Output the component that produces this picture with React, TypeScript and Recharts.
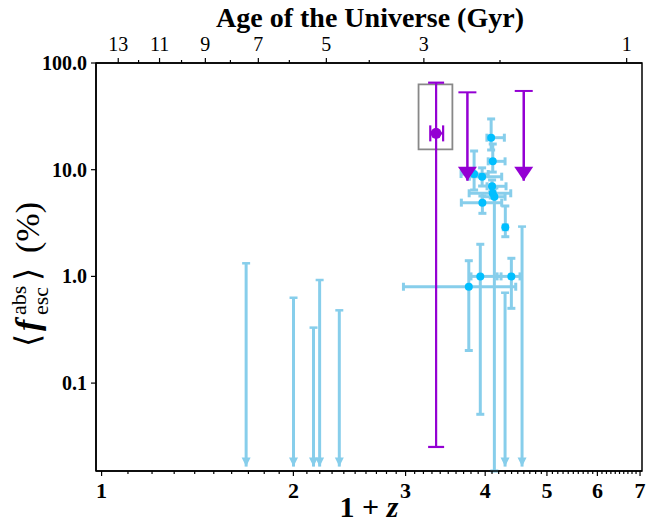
import { ScatterChart, Scatter, XAxis, YAxis, ErrorBar, ReferenceArea } from 'recharts';

// axis domains (1+z on x, <f_esc> in % on y)
const xDomain = [0.98, 7.05];
const yDomain = [0.015, 100];

// bottom axis ticks
const zMajor = [1, 2, 3, 4, 5, 6, 7];
const zMinor: number[] = [];
for (let i = 1; i < 7; i++) for (let k = 1; k < 10; k++) zMinor.push(Math.round((i + k / 10) * 10) / 10);

// top axis: age of the universe (Gyr) and where it falls in 1+z
const ageLabels = [13, 12, 11, 10, 9, 8, 7, 6, 5, 4, 3, 2, 1];
const agePos = [1.062, 1.143, 1.233, 1.335, 1.455, 1.593, 1.762, 1.971, 2.253, 2.631, 3.205, 4.22, 6.67];

// left axis ticks
const yTicks = [0.1, 1, 10, 100];
const yTickLabels = ['0.1', '1.0', '10.0', '100.0'];

// sky-blue measurements
const blueX = [4.087, 4.111, 3.843, 3.956, 4.101, 4.111, 4.135, 3.96, 4.302, 3.93, 4.397, 3.77];
const blueY = [19.95, 11.98, 9.11, 8.6, 6.99, 6.01, 5.58, 4.91, 2.885, 1.0, 1.0, 0.8];
const blueYLo = [15.3, 9.5, 6.45, 7.03, 6.18, 5.43, 0.015, 3.9, 2.355, 0.051, 0.502, 0.202];
const blueYHi = [29.9, 17.4, 14.97, 10.4, 8.01, 6.59, 6.74, 5.67, 4.57, 2.0, 1.478, 1.403];
const blueXLo = [4.025, 4.044, 3.666, 3.778, 4.027, 3.775, 3.956, 3.67, 4.27, 3.8, 4.176, 2.977];
const blueXHi = [4.287, 4.298, 4.044, 4.246, 4.313, 4.387, 4.298, 4.246, 4.33, 4.236, 4.537, 4.467];

// sky-blue upper limits (arrow down to the floor)
const blueLimX = [1.686, 2.001, 2.151, 2.199, 2.361, 4.298, 4.57];
const blueLimY = [1.327, 0.631, 0.331, 0.925, 0.481, 0.703, 2.93];
const blueLimTip = [0.0165, 0.0165, 0.0165, 0.0165, 0.0165, 0.0165, 0.0165];

// violet measurement
const violetX = [3.35];
const violetY = [21.9];
const violetYLo = [0.0252];
const violetYHi = [65.4];
const violetXLo = [3.28];
const violetXHi = [3.436];

// violet upper limits
const violetLimX = [3.751, 4.598];
const violetLimY = [53.1, 54.7];
const violetLimTip = [7.88, 7.88];

// highlight box
const boxX = [3.144, 3.553];
const boxY = [15.5, 63.1];

const BLUE_BAR = '#87CEEB';
const BLUE_DOT = '#00BFFF';
const VIOLET = '#9400D3';
const FONT = '"Liberation Serif", serif';

const blueRows = blueX.map((x, i) => ({
  x,
  y: blueY[i],
  ex: [x - blueXLo[i], blueXHi[i] - x],
  ey: [blueY[i] - blueYLo[i], blueYHi[i] - blueY[i]],
}));
const violetRows = violetX.map((x, i) => ({
  x,
  y: violetY[i],
  ex: [x - violetXLo[i], violetXHi[i] - x],
  ey: [violetY[i] - violetYLo[i], violetYHi[i] - violetY[i]],
}));
const limitRows = (xs: number[], tops: number[], tips: number[]) =>
  xs.map((x, i) => ({ x, y: tops[i], ey: [tops[i] - tips[i], 0] }));
const tipRows = (xs: number[], tips: number[]) => xs.map((x, i) => ({ x, y: tips[i] }));

const capShape = (color: string, sw: number, cap: number) => (p: any) => (
  <line x1={p.cx - cap} x2={p.cx + cap} y1={p.cy} y2={p.cy} stroke={color} strokeWidth={sw} />
);
const headShape = (color: string, hw: number, hh: number) => (p: any) => (
  <polygon points={`${p.cx - hw},${p.cy - hh} ${p.cx + hw},${p.cy - hh} ${p.cx},${p.cy}`} fill={color} />
);

const BottomTick = (props: any) => {
  const { x, y, payload } = props;
  const major = zMajor.includes(payload.value);
  return (
    <g>
      <line x1={x} x2={x} y1={y} y2={y + (major ? 5 : 3)} stroke="#000" strokeWidth={1.2} />
      {major && (
        <text x={x} y={y + 27} textAnchor="middle" fontFamily={FONT} fontWeight="bold" fontSize={22} fill="#000">
          {payload.value}
        </text>
      )}
    </g>
  );
};

const TopTick = (props: any) => {
  const { x, y, payload } = props;
  const idx = agePos.indexOf(payload.value);
  const age = ageLabels[idx];
  const major = age % 2 === 1;
  return (
    <g>
      <line x1={x} x2={x} y1={y} y2={y - (major ? 5 : 3)} stroke="#000" strokeWidth={1.2} />
      {major && (
        <text x={x} y={y - 12} textAnchor="middle" fontFamily={FONT} fontSize={20} fill="#000">
          {age}
        </text>
      )}
    </g>
  );
};

const LeftTick = (props: any) => {
  const { x, y, payload } = props;
  const label = yTickLabels[yTicks.indexOf(payload.value)];
  return (
    <g>
      <line x1={x} x2={x - 5} y1={y} y2={y} stroke="#000" strokeWidth={1.2} />
      <text x={x - 9} y={y} dy="0.35em" textAnchor="end" fontFamily={FONT} fontWeight="bold" fontSize={20} fill="#000">
        {label}
      </text>
    </g>
  );
};

const YTitle = () => (
  <g transform="translate(39, 267) rotate(-90)" fontFamily={FONT} fill="#000">
    <text x={-80} y={0} fontSize={34}>{'\u27E8'}</text>
    <text x={-64} y={0} fontSize={34} fontWeight="bold" fontStyle="italic">f</text>
    <text x={-48} y={-13} fontSize={22}>abs</text>
    <text x={-48} y={9} fontSize={22}>esc</text>
    <text x={-14} y={0} fontSize={34}>{'\u27E9'}</text>
    <text x={14} y={0} fontSize={34}>(%)</text>
  </g>
);

const TopTitle = () => (
  <text x={370} y={27} textAnchor="middle" fontFamily={FONT} fontSize={28} fontWeight="bold" fill="#000">
    Age of the Universe (Gyr)
  </text>
);

const BottomTitle = () => (
  <text x={369} y={517} textAnchor="middle" fontFamily={FONT} fontSize={30} fontWeight="bold" fill="#000">
    1 + <tspan fontStyle="italic">z</tspan>
  </text>
);

export default function App() {
  return (
    <div style={{ position: 'absolute', left: 0, top: 0, background: '#fff' }}>
      <ScatterChart width={646} height={525} margin={{ top: 33, right: 4, bottom: 24, left: 36 }}>
        <XAxis
          xAxisId={0}
          dataKey="x"
          type="number"
          scale="log"
          domain={xDomain}
          allowDataOverflow
          ticks={[...zMajor, ...zMinor]}
          interval={0}
          height={30}
          tickSize={0}
          tickMargin={0}
          tickLine={false}
          tick={BottomTick}
          axisLine={{ stroke: '#000', strokeWidth: 1.5 }}
          label={{ content: BottomTitle }}
        />
        <XAxis
          xAxisId="top"
          orientation="top"
          dataKey="x"
          type="number"
          scale="log"
          domain={xDomain}
          allowDataOverflow
          ticks={agePos}
          interval={0}
          height={30}
          tickSize={0}
          tickMargin={0}
          tickLine={false}
          tick={TopTick}
          axisLine={{ stroke: '#000', strokeWidth: 1.5 }}
          label={{ content: TopTitle }}
        />
        <YAxis
          yAxisId={0}
          dataKey="y"
          type="number"
          scale="log"
          domain={yDomain}
          allowDataOverflow
          ticks={yTicks}
          interval={0}
          width={60}
          tickSize={0}
          tickMargin={0}
          tickLine={false}
          tick={LeftTick}
          axisLine={{ stroke: '#000', strokeWidth: 1.5 }}
          label={{ content: YTitle }}
        />
        <ReferenceArea x1={xDomain[0]} x2={xDomain[1]} y1={yDomain[0]} y2={yDomain[1]} fill="none" stroke="#000" strokeWidth={1.5} fillOpacity={0} />

        {/* sky-blue measurements */}
        <Scatter data={blueRows} fill={BLUE_DOT} isAnimationActive={false} shape={(p: any) => <circle cx={p.cx} cy={p.cy} r={4} fill={BLUE_DOT} />}>
          <ErrorBar dataKey="ey" direction="y" stroke={BLUE_BAR} strokeWidth={3} width={4} isAnimationActive={false} />
          <ErrorBar dataKey="ex" direction="x" stroke={BLUE_BAR} strokeWidth={3} width={4} isAnimationActive={false} />
        </Scatter>

        {/* sky-blue upper limits */}
        <Scatter data={limitRows(blueLimX, blueLimY, blueLimTip)} fill={BLUE_BAR} isAnimationActive={false} shape={capShape(BLUE_BAR, 2.5, 4)}>
          <ErrorBar dataKey="ey" direction="y" stroke={BLUE_BAR} strokeWidth={3} width={0} isAnimationActive={false} />
        </Scatter>
        <Scatter data={tipRows(blueLimX, blueLimTip)} fill={BLUE_BAR} isAnimationActive={false} shape={headShape(BLUE_BAR, 4.5, 9)} />

        <ReferenceArea x1={boxX[0]} x2={boxX[1]} y1={boxY[0]} y2={boxY[1]} fill="none" fillOpacity={0} stroke="#888" strokeWidth={1.8} />

        {/* violet measurement */}
        <Scatter xAxisId="top" data={violetRows} fill={VIOLET} isAnimationActive={false} shape={(p: any) => <circle cx={p.cx} cy={p.cy} r={5.5} fill={VIOLET} />}>
          <ErrorBar dataKey="ey" direction="y" stroke={VIOLET} strokeWidth={2.2} width={8} isAnimationActive={false} />
          <ErrorBar dataKey="ex" direction="x" stroke={VIOLET} strokeWidth={2.2} width={8} isAnimationActive={false} />
        </Scatter>

        {/* violet upper limits */}
        <Scatter data={limitRows(violetLimX, violetLimY, violetLimTip)} fill={VIOLET} isAnimationActive={false} shape={capShape(VIOLET, 2, 9)}>
          <ErrorBar dataKey="ey" direction="y" stroke={VIOLET} strokeWidth={2.5} width={0} isAnimationActive={false} />
        </Scatter>
        <Scatter data={tipRows(violetLimX, violetLimTip)} fill={VIOLET} isAnimationActive={false} shape={headShape(VIOLET, 9.5, 14)} />
      </ScatterChart>
    </div>
  );
}
